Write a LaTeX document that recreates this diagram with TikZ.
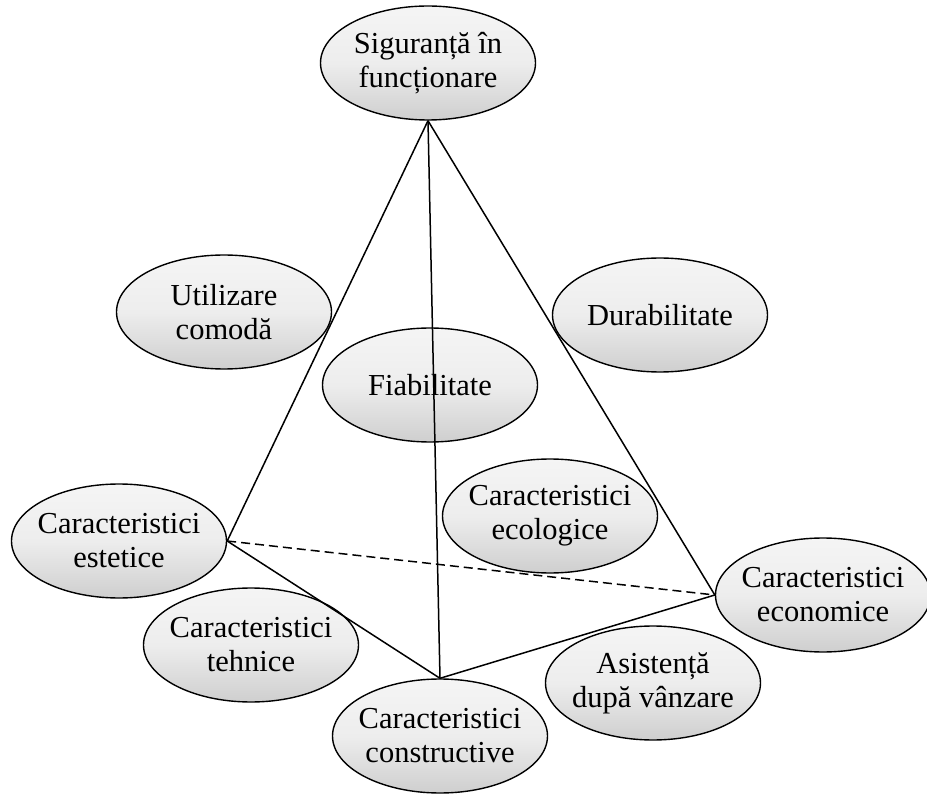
\documentclass[tikz,border=0pt]{standalone}
\usepackage{fontspec}
\setmainfont{Liberation Serif}
\usetikzlibrary{shapes.geometric}
\begin{document}
\begin{tikzpicture}[x=1pt,y=-1pt,
  oval/.style={ellipse, draw=black, line width=1.4pt, minimum width=215pt, minimum height=114pt, inner sep=-25pt,
    top color=gray!8, bottom color=gray!38, middle color=gray!14, shading angle=0,
    align=center, font=\fontsize{30.5}{34}\selectfont},
  edge/.style={line width=1.5pt, black},
  hidden/.style={edge, dash pattern=on 9pt off 5pt}]
\useasboundingbox (0,0) rectangle (927,794);
\node[oval] (sig) at (428,63) {Siguranță în\\funcționare};
\node[oval] (util) at (224,312) {Utilizare\\comodă};
\node[oval] (dur) at (660,315) {Durabilitate};
\node[oval] (fiab) at (430,385) {Fiabilitate};
\node[oval] (ecol) at (550,516) {Caracteristici\\ecologice};
\node[oval] (est) at (119,541) {Caracteristici\\estetice};
\node[oval] (eco) at (823,595) {Caracteristici\\economice};
\node[oval] (teh) at (251,645) {Caracteristici\\tehnice};
\node[oval] (asi) at (653,683) {Asistență\\după vânzare};
\node[oval] (con) at (440,736) {Caracteristici\\constructive};
\draw[edge] (sig.south) -- (est.east);
\draw[edge] (sig.south) -- (con.north);
\draw[edge] (sig.south) -- (eco.west);
\draw[edge] (est.east) -- (con.north);
\draw[edge] (con.north) -- (eco.west);
\draw[hidden] (est.east) -- (eco.west);
\end{tikzpicture}
\end{document}
